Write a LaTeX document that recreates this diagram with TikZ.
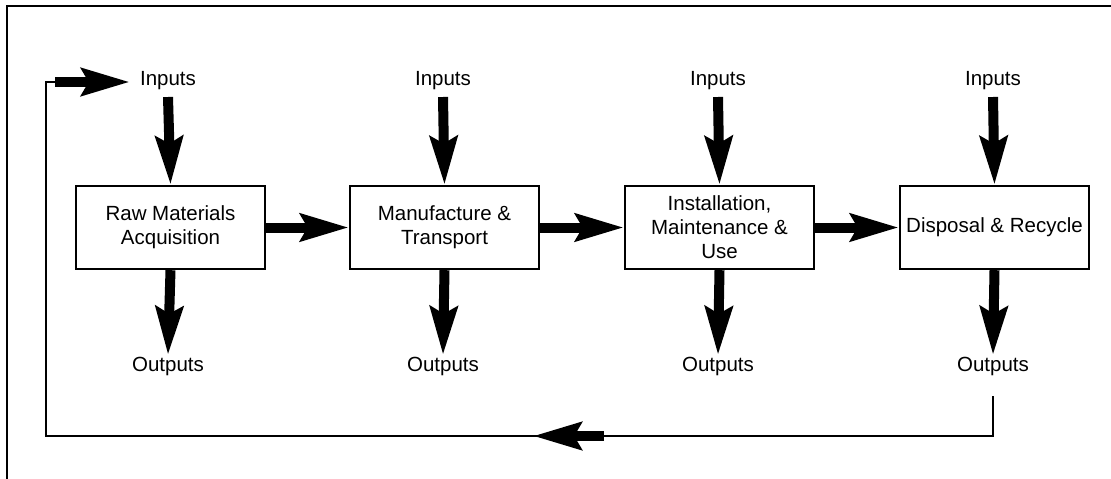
\documentclass[tikz,border=0pt]{standalone}
\usepackage{fontspec}
\setmainfont{Liberation Sans}
\usetikzlibrary{arrows.meta}

\begin{document}
\begin{tikzpicture}[x=1pt,y=-1pt,
  every node/.style={font=\fontsize{20.5}{24}\selectfont},
  stage/.style={draw, line width=2.4pt, minimum width=189pt, minimum height=83pt,
                inner sep=0pt, align=center},
  label/.style={inner sep=0pt},
  bigarrow/.style={line width=10pt,
                   -{Stealth[length=48pt,width=27pt,inset=7pt]}},
  thinline/.style={line width=2pt},
  frame/.style={line width=1.4pt}]

\useasboundingbox (0,0) rectangle (1111,479);

% open frame around the figure
\draw[frame] (7,479) -- (7,6) -- (1111,6);

% life-cycle stages
\node[stage] (b1) at (170.5,227.5) {Raw Materials\\Acquisition};
\node[stage] (b2) at (444.5,227.5) {Manufacture \&\\Transport};
\node[stage] (b3) at (719.5,227.5) {Installation,\\Maintenance \&\\Use};
\node[stage] (b4) at (994.5,227.5) {Disposal \& Recycle};

% inputs and outputs of each stage
\foreach \i/\x in {1/168,2/443,3/718,4/993}{
  \node[label] (in\i)  at (\x,81)  {Inputs};
  \node[label] (out\i) at (\x,366) {Outputs};
  \draw[bigarrow] ([yshift=-16pt]in\i.center) -- (b\i.north);
  \draw[bigarrow] (b\i.south) -- ([yshift=11pt]out\i.center);
}

% flow between stages
\draw[bigarrow] (b1.east) -- (b2.west);
\draw[bigarrow] (b2.east) -- (b3.west);
\draw[bigarrow] (b3.east) -- (b4.west);

% recycling loop back to the first inputs
\coordinate (fbA) at ([yshift=-30pt]out4.center);
\coordinate (fbB) at (46,436);
\coordinate (fbC) at (46,82);
\coordinate (fbD) at (55,82);
\coordinate (fbE) at (604,436);
\coordinate (fbF) at (533,436);
\draw[thinline] (fbA) |- (fbB) -- (fbC) -- (fbD);
\draw[bigarrow] (fbD) -- ([xshift=-10pt]in1.west |- fbD);
\draw[bigarrow] (fbE) -- (fbF);

\end{tikzpicture}
\end{document}
